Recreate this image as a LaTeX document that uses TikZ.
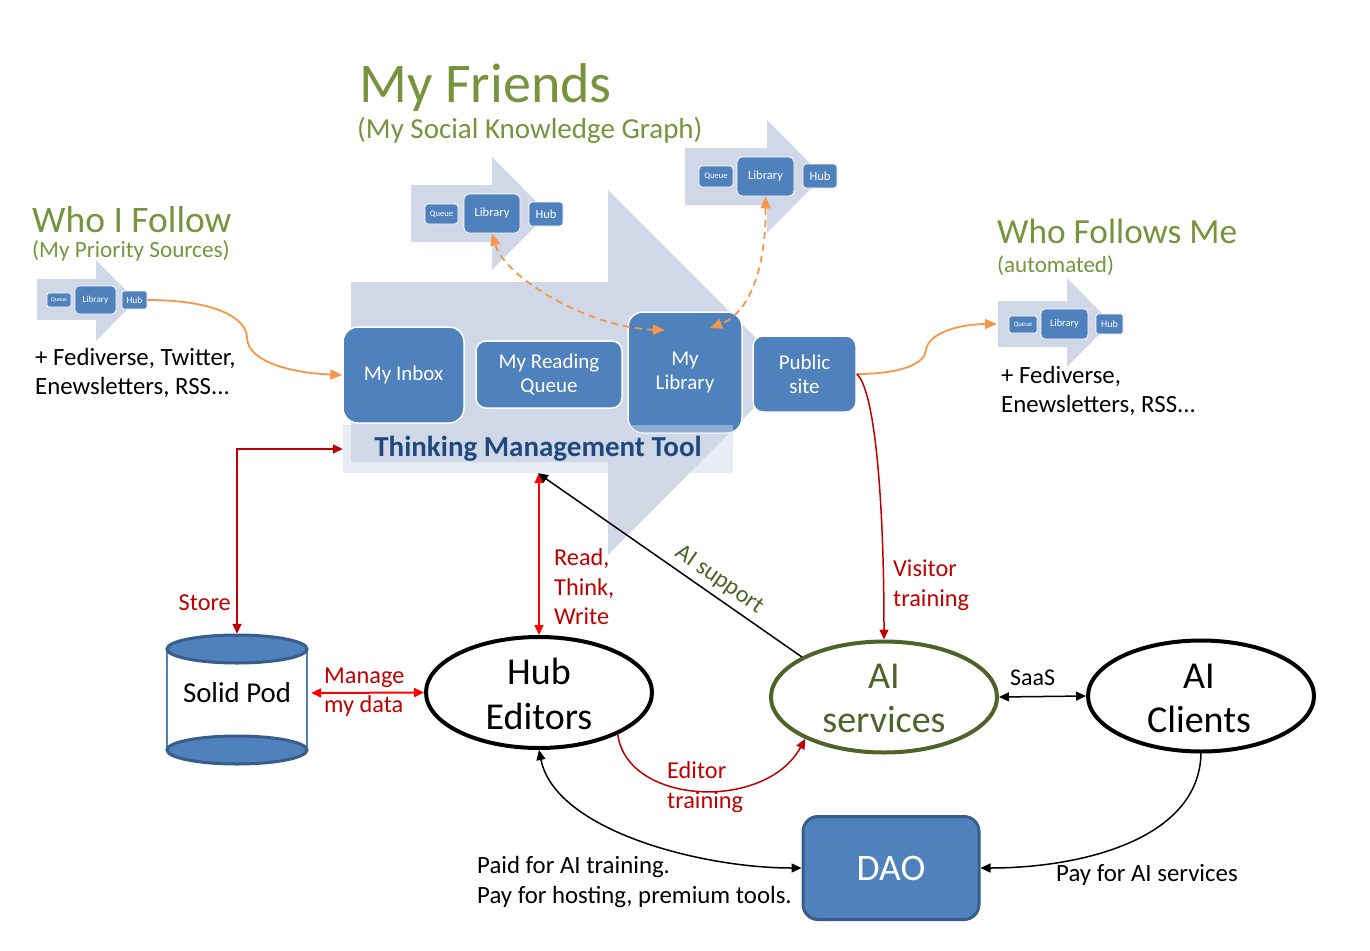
\documentclass[tikz,border=0pt]{standalone}
\usepackage{fontspec}
\setmainfont{Carlito}
\usetikzlibrary{arrows.meta,shapes.geometric,calc}
\definecolor{arrowfill}{HTML}{D0D8E8}
\definecolor{boxblue}{HTML}{4F81BD}
\definecolor{boxedge}{HTML}{385D8A}
\definecolor{titlegreen}{HTML}{77933C}
\definecolor{olive}{HTML}{4F6228}
\definecolor{darkred}{HTML}{C00000}
\definecolor{brightred}{HTML}{FF0000}
\definecolor{orangeline}{HTML}{F79646}
\definecolor{tmtblue}{HTML}{1F497D}
\newcommand\fsz[2]{\fontsize{#1}{#2}\selectfont}
\begin{document}
\begin{tikzpicture}[x=1pt,y=-1pt,
  bigbox/.style={draw=white, line width=1.5pt, fill=boxblue, text=white, align=center, inner sep=0pt, font=\fsz{21}{24}},
  sbox/.style={draw=white, line width=0.8pt, fill=boxblue, text=white, inner sep=0pt, rounded corners=3pt},
  lbl/.style={inner sep=0pt, anchor=base west},
  redlbl/.style={lbl, text=darkred, font=\fsz{24.3}{30}},
  blk/.style={lbl, font=\fsz{24.8}{30}},
  oval/.style={ellipse, line width=4pt, minimum width=226pt, minimum height=111pt, inner sep=0pt},
  tipend/.style={-{Triangle[length=10pt,width=9pt]}},
  tipboth/.style={{Triangle[length=10pt,width=9pt]}-{Triangle[length=10pt,width=9pt]}},
  orsolid/.style={draw=orangeline, line width=1.8pt, -{Triangle[length=12pt,width=10pt]}},
  ordash/.style={draw=orangeline, line width=1.8pt, dash pattern=on 7pt off 5pt,
     {Triangle[length=12pt,width=10pt]}-{Triangle[length=12pt,width=10pt]}},
]
\useasboundingbox (0,0) rectangle (1370,950);

% ---------- big arrow ----------
\fill[arrowfill] (351,282) -- (608,282) -- (608,190) -- (790,372) -- (608,555) -- (608,462) -- (351,462) -- cycle;

% ---------- small arrows ----------
\fill[arrowfill] (411,185) -- (492,185) -- (492,157) -- (548,213.5) -- (492,270) -- (492,242) -- (411,242) -- cycle;
\fill[arrowfill] (685,148) -- (767,148) -- (767,120) -- (823,176.5) -- (767,233) -- (767,205) -- (685,205) -- cycle;
\fill[arrowfill] (37,279) -- (96,279) -- (96,260) -- (136,300.5) -- (96,341) -- (96,320) -- (37,320) -- cycle;
\fill[arrowfill] (998,301) -- (1067,301) -- (1067,278) -- (1111,322.5) -- (1067,367) -- (1067,347) -- (998,347) -- cycle;

% friends 1
\node[sbox, minimum width=33pt, minimum height=20pt, font=\fsz{8.5}{10}] (q1) at (441.5,214) {Queue};
\node[sbox, rounded corners=5pt, minimum width=56pt, minimum height=39pt, font=\fsz{12.5}{14}] (lib1) at (492,213.5) {Library};
\node[sbox, minimum width=34pt, minimum height=24pt, font=\fsz{12.5}{14}] (h1) at (546,214) {Hub};
% friends 2
\node[sbox, minimum width=34pt, minimum height=21pt, font=\fsz{8.5}{10}] (q2) at (716,176.5) {Queue};
\node[sbox, rounded corners=5pt, minimum width=57pt, minimum height=39pt, font=\fsz{12.5}{14}] (lib2) at (765.5,176.5) {Library};
\node[sbox, minimum width=34pt, minimum height=24pt, font=\fsz{12.5}{14}] (h2) at (820,176) {Hub};
% who I follow
\node[sbox, rounded corners=2pt, minimum width=24pt, minimum height=14pt, font=\fsz{6}{7}] (qF) at (59,300) {Queue};
\node[sbox, rounded corners=4pt, minimum width=41pt, minimum height=28pt, font=\fsz{9.2}{11}] (libF) at (95.5,300) {Library};
\node[sbox, rounded corners=2pt, minimum width=25pt, minimum height=18pt, font=\fsz{9.5}{11}] (hubF) at (134.5,300) {Hub};
% who follows me
\node[sbox, rounded corners=2pt, minimum width=28pt, minimum height=17pt, font=\fsz{6.8}{8}] (qM) at (1023,324.5) {Queue};
\node[sbox, rounded corners=4pt, minimum width=47pt, minimum height=30pt, font=\fsz{10.3}{12}] (libM) at (1064.5,324) {Library};
\node[sbox, rounded corners=2pt, minimum width=27pt, minimum height=20pt, font=\fsz{10}{12}] (hubM) at (1109.5,324) {Hub};
\coordinate (fmin) at (997,324);

% ---------- TMT boxes ----------
\node[bigbox, rounded corners=15pt, minimum width=121pt, minimum height=96pt] (inbox) at (403.5,375) {My Inbox};
\node[bigbox, rounded corners=10pt, minimum width=146pt, minimum height=67pt] (rq) at (549,374.5) {My Reading\\Queue};
\node[bigbox, rounded corners=15pt, minimum width=114pt, minimum height=121pt] (mylib) at (685,372.5) {My\\Library};
\node[bigbox, rounded corners=10pt, minimum width=103pt, minimum height=76pt] (pub) at (804.5,374) {Public\\site};
\node[fill=arrowfill, fill opacity=0.5, text opacity=1, minimum width=390pt, minimum height=48pt, inner sep=0pt,
      text=tmtblue, font=\fsz{29}{34}\bfseries] (tmt) at (538,449) {Thinking Management Tool};
\coordinate (mlA) at (665,330);
\coordinate (mlB) at (710,328);

% ---------- titles ----------
\node[lbl, text=titlegreen, font=\fsz{56}{60}] (tFriends) at (359,102) {My Friends};
\node[lbl, text=titlegreen, font=\fsz{29}{32}] (tFriendsSub) at (357,138) {(My Social Knowledge Graph)};
\node[lbl, text=titlegreen, font=\fsz{37.5}{40}] (tFollow) at (32,232) {Who I Follow};
\node[lbl, text=titlegreen, font=\fsz{23.2}{26}] (tFollowSub) at (32,257) {(My Priority Sources)};
\node[blk] (fA) at (35,365) {+ Fediverse, Twitter,};
\node[blk] (fB) at (35,394) {Enewsletters, RSS...};
\node[lbl, text=titlegreen, font=\fsz{35.3}{40}] (tFM) at (997,243) {Who Follows Me};
\node[lbl, text=titlegreen, font=\fsz{23}{26}] (tFMSub) at (997,272) {(automated)};
\node[blk] (mA) at (1001,383) {+ Fediverse,};
\node[blk] (mB) at (1001,412) {Enewsletters, RSS...};

% ---------- orange connectors ----------
\draw[orsolid] (hubF.east) .. controls (215,300) and (247,318) .. (247,338) .. controls (248,362) and (292,373) .. (inbox.west);
\draw[orsolid] (pub.east) .. controls (900,374) and (925,364) .. (926,350) .. controls (928,333) and (960,324) .. (fmin);
\draw[ordash] (lib1.south) .. controls (505,278) and (590,328) .. (mlA);
\draw[ordash] (lib2.south) .. controls (766,262) and (752,312) .. (mlB);

% ---------- bottom nodes ----------
% Solid Pod cylinder
\draw[boxblue, line width=1.5pt] (167,649) -- (167,750) (307,649) -- (307,750);
\draw[fill=boxblue, draw=boxedge, line width=3pt] (237,750) ellipse [x radius=70pt, y radius=14pt];
\draw[fill=boxblue, draw=boxedge, line width=3pt] (237,649) ellipse [x radius=70pt, y radius=14pt];
\node[minimum width=148pt, minimum height=118pt, inner sep=0pt, font=\fsz{28.8}{32}] (pod) at (237,693) {Solid Pod};

\node[oval, draw=black] (hub) at (539,692.5) {};
\node[font=\fsz{38}{45}, align=center] (hubtxt) at (539,694) {Hub\\Editors};
\node[oval, draw=olive] (ai) at (884,697) {};
\node[font=\fsz{38}{44}, align=center, text=olive] (aitxt) at (884,698) {AI\\services};
\node[oval, draw=black] (aic) at (1201,696) {};
\node[font=\fsz{38}{44}, align=center] (aictxt) at (1199,698) {AI\\Clients};
\node[draw=boxedge, line width=3pt, fill=boxblue, rounded corners=15pt, minimum width=176pt, minimum height=103pt,
      text=white, font=\fsz{37.5}{40}] (dao) at (891,868) {DAO};

% ---------- connectors ----------
\draw[darkred, line width=1.5pt, tipboth] (pod.north) |- (tmt.west);
\node[lbl, anchor=base east, text=darkred, font=\fsz{24.3}{30}] (storeL) at (231,610) {Store};

\draw[brightred, line width=1.5pt, tipboth] (hub.north |- tmt.south) -- (hub.north);
\node[redlbl] (rtw1) at (554,565) {Read,};
\node[redlbl] (rtw2) at (554,595) {Think,};
\node[redlbl] (rtw3) at (554,624) {Write};

\draw[brightred, line width=2pt, tipboth] (pod.east) -- (hub.west);
\node[redlbl] (man1) at (324,683) {Manage};
\node[redlbl] (man2) at (324,712) {my data};

\draw[black, line width=1.5pt, tipend] (ai.154) -- (tmt.south);
\node[text=olive, font=\fsz{24}{30}, rotate=-34.7, inner sep=0pt] (aisup) at (719,580) {AI support};

\draw[darkred, line width=1.5pt, tipend] (pub.east) .. controls (875,390) and (884,500) .. (ai.north);
\node[redlbl] (vis1) at (893,576) {Visitor};
\node[redlbl] (vis2) at (893,606) {training};

\draw[darkred, line width=1.5pt, tipend] (hub.332) .. controls (627,805) and (765,812) .. (ai.208);
\node[redlbl] (ed1) at (667,778) {Editor};
\node[redlbl] (ed2) at (667,808) {training};

\draw[black, line width=1.5pt, tipboth] (ai.east) -- (aic.west);
\node[lbl, font=\fsz{24}{26}] (saas) at (1010,685) {SaaS};

\draw[black, line width=1.5pt, tipboth] (hub.south) .. controls (555,830) and (700,868) .. (dao.west);
\node[blk] (paid1) at (477,873) {Paid for AI training.};
\node[blk] (paid2) at (477,903) {Pay for hosting, premium tools.};

\draw[black, line width=1.5pt, tipend] (aic.south) .. controls (1199,840) and (1080,868) .. (dao.east);
\node[blk] (payai) at (1056,881) {Pay for AI services};

\end{tikzpicture}
\end{document}
